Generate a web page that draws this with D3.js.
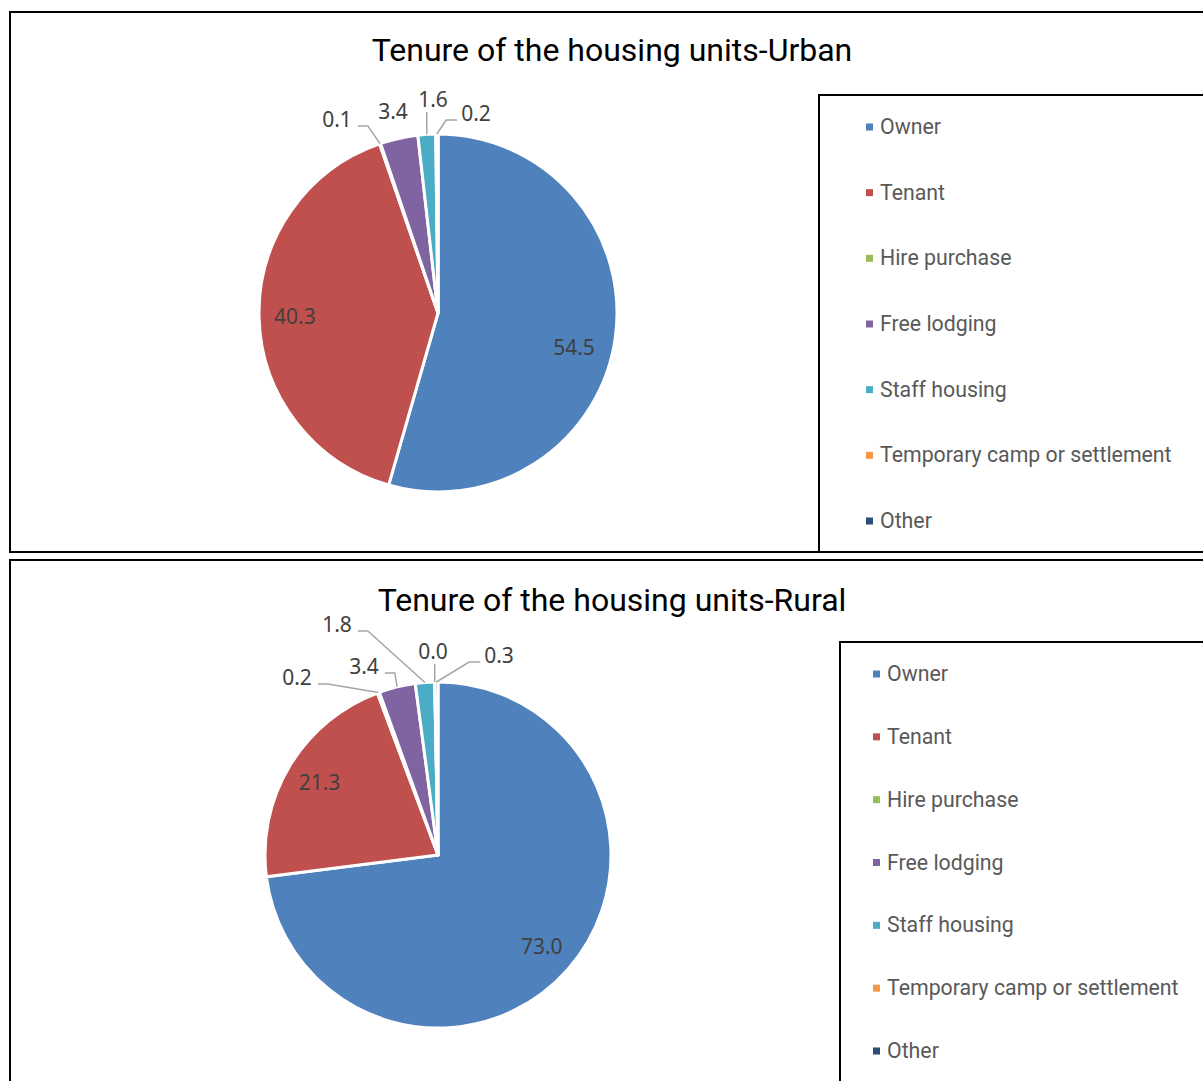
<!DOCTYPE html>
<html>
<head>
<meta charset="utf-8">
<script src="https://cdn.jsdelivr.net/npm/d3@7"></script>
<style>
  body { margin: 0; background: #fff; }
  svg { display: block; }
</style>
</head>
<body>
<svg id="chart"></svg>
<script>
const categories = ["Owner", "Tenant", "Hire purchase", "Free lodging", "Staff housing", "Temporary camp or settlement", "Other"];
const urbanValues = [54.5, 40.3, 0.1, 3.4, 1.6, 0.2, null];
const ruralValues = [73.0, 21.3, 0.2, 3.4, 1.8, 0.0, 0.3];
const sliceColors = ["#4F81BD", "#C0504D", "#9BBB59", "#8064A2", "#4BACC6", "#F79646", "#2C4D75"];

const width = 1203;
const height = 1081;

const svg = d3.select("#chart").attr("width", width).attr("height", height);

const colorScale = d3.scaleOrdinal().domain(categories).range(sliceColors);

// manual label placement (centre offset from pie centre, leader side)
const urbanLabels = {
  "Owner": { dx: 136, dy: 35, leader: null },
  "Hire purchase": { dx: -101, dy: -193, leader: "left" },
  "Free lodging": { dx: -45, dy: -201, leader: null },
  "Staff housing": { dx: -5, dy: -213, leader: "below" },
  "Temporary camp or settlement": { dx: 38, dy: -199, leader: "right" }
};
const ruralLabels = {
  "Hire purchase": { dx: -141, dy: -177, leader: "left" },
  "Free lodging": { dx: -74, dy: -188, leader: "left" },
  "Staff housing": { dx: -101, dy: -230, leader: "left" },
  "Temporary camp or settlement": { dx: -5, dy: -203, leader: "below" },
  "Other": { dx: 61, dy: -199, leader: "right" }
};

const panels = [
  {
    title: "Tenure of the housing units-Urban", values: urbanValues, labels: urbanLabels,
    box: [10, 12, 1220, 540], titleY: 61,
    cx: 438, cy: 313, r: 179,
    legendBox: [819, 95, 420, 457], legendX: 866, legendRange: [127, 521]
  },
  {
    title: "Tenure of the housing units-Rural", values: ruralValues, labels: ruralLabels,
    box: [10, 560, 1220, 560], titleY: 611,
    cx: 438, cy: 855, r: 173,
    legendBox: [840, 642, 420, 460], legendX: 873, legendRange: [674, 1051]
  }
];

const pie = d3.pie().sort(null).value(d => d.value || 0);

panels.forEach(p => {
  const g = svg.append("g");

  g.append("rect")
    .attr("x", p.box[0]).attr("y", p.box[1])
    .attr("width", p.box[2]).attr("height", p.box[3])
    .attr("fill", "#fff").attr("stroke", "#000").attr("stroke-width", 2);

  g.append("text")
    .attr("x", 612).attr("y", p.titleY)
    .attr("text-anchor", "middle")
    .style("font-family", "Roboto")
    .style("font-size", "32px")
    .attr("fill", "#000")
    .text(p.title);

  // legend
  g.append("rect")
    .attr("x", p.legendBox[0]).attr("y", p.legendBox[1])
    .attr("width", p.legendBox[2]).attr("height", p.legendBox[3])
    .attr("fill", "#fff").attr("stroke", "#000").attr("stroke-width", 2);

  const ly = d3.scalePoint().domain(categories).range(p.legendRange);
  const items = g.selectAll(".leg").data(categories).enter().append("g");
  items.append("rect")
    .attr("x", p.legendX).attr("y", d => ly(d) - 3.5)
    .attr("width", 7).attr("height", 7)
    .attr("fill", d => colorScale(d));
  items.append("text")
    .attr("x", p.legendX + 14).attr("y", d => ly(d) + 7)
    .style("font-family", "Roboto")
    .style("font-size", "21.3px")
    .attr("fill", "#595959")
    .text(d => d);

  // pie
  const data = categories.map((c, i) => ({ cat: c, value: p.values[i] }));
  const arcs = pie(data);
  const arc = d3.arc().innerRadius(0).outerRadius(p.r);
  const inner = d3.arc().innerRadius(p.r * 0.8).outerRadius(p.r * 0.8);
  const edge = d3.arc().innerRadius(p.r).outerRadius(p.r);

  const pg = g.append("g").attr("transform", `translate(${p.cx},${p.cy})`);
  pg.selectAll("path").data(arcs).enter().append("path")
    .attr("d", arc)
    .attr("fill", d => colorScale(d.data.cat))
    .attr("stroke", "#fff")
    .attr("stroke-width", 3)
    .attr("stroke-linejoin", "round");

  const labelFont = t => t.style("font-family", "Noto Sans").style("font-size", "21px").attr("fill", "#404040");

  arcs.filter(d => d.data.value !== null).forEach(d => {
    const pos = p.labels[d.data.cat];
    const txt = d3.format(".1f")(d.data.value);
    if (!pos) {
      const c = inner.centroid(d);
      pg.append("text")
        .attr("x", c[0]).attr("y", c[1] + 7)
        .attr("text-anchor", "middle")
        .call(labelFont)
        .text(txt);
      return;
    }
    const t = pg.append("text")
      .attr("x", pos.dx).attr("y", pos.dy + 7)
      .attr("text-anchor", "middle")
      .call(labelFont)
      .text(txt);
    if (!pos.leader) return;
    const w = t.node().getComputedTextLength();
    const e = edge.centroid(d);
    let pts;
    if (pos.leader === "left") {
      const x0 = pos.dx + w / 2 + 6, y0 = pos.dy + 6;
      pts = [[x0, y0], [x0 + 10, y0], e];
    } else if (pos.leader === "right") {
      const x0 = pos.dx - w / 2 - 4, y0 = pos.dy + 6;
      pts = [[x0, y0], [x0 - 11, y0], e];
    } else {
      pts = [[e[0], pos.dy + 12], e];
    }
    pg.append("path")
      .attr("d", d3.line()(pts))
      .attr("fill", "none")
      .attr("stroke", "#A6A6A6")
      .attr("stroke-width", 1.5);
  });
});
</script>
</body>
</html>
